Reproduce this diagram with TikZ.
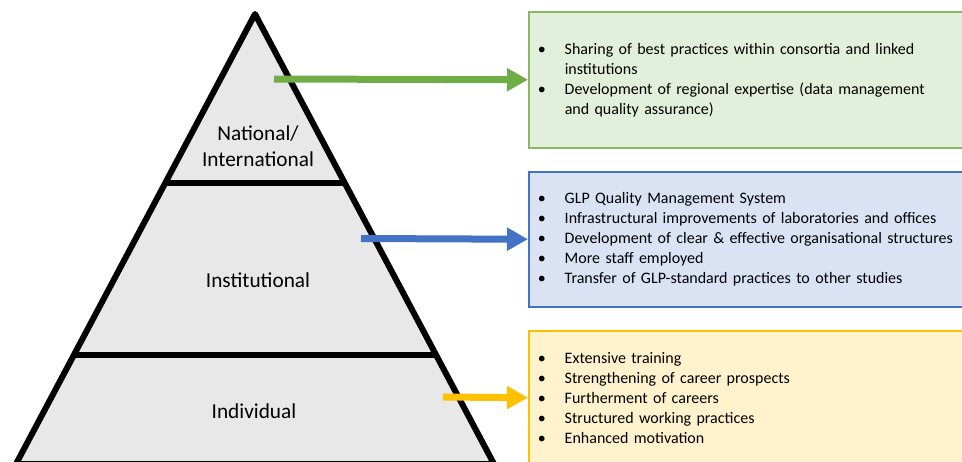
\documentclass[tikz,border=0pt]{standalone}
\usepackage{fontspec}
\setmainfont{Carlito}
\usetikzlibrary{arrows.meta,positioning}

\definecolor{natgreen}{HTML}{70AD47}
\definecolor{natfill}{HTML}{E2EFDA}
\definecolor{instblue}{HTML}{4472C4}
\definecolor{instfill}{HTML}{DAE3F3}
\definecolor{indyellow}{HTML}{FFC000}
\definecolor{indfill}{HTML}{FFF2CC}
\definecolor{pyrfill}{HTML}{E8E8E8}

\newcommand{\bpoint}[1]{\noindent\hangindent=36pt\hangafter=1\makebox[36pt][l]{\hspace{9pt}\textbullet}#1\par}

\begin{document}
\begin{tikzpicture}[x=1pt,y=-1pt,
    listbox/.style={anchor=north west, line width=1.5pt, inner sep=0pt,
      text width=440pt, align=left, font=\fontsize{16}{20}\selectfont},
    levelarrow/.style={line width=7pt, -{Triangle[width=22pt,length=21pt]}},
    levellabel/.style={align=center, font=\fontsize{21.3}{26}\selectfont}]
	\useasboundingbox (0,0) rectangle (962,461);
	%\draw[style=help lines,step=50] (0,0) grid (962,461);

	% pyramid
	\draw[fill=pyrfill, line width=6pt, line join=round] (255,14) -- (494,464) -- (16,464) -- cycle;
	\draw[line width=6pt] (164.7,183) -- (345.3,183);
	\draw[line width=6pt] (73.4,355) -- (436.6,355);
	\node[levellabel] (natlabel) at (258,146) {National/\\International};
	\node[levellabel] (instlabel) at (258,280) {Institutional};
	\node[levellabel] (indlabel) at (254,411) {Individual};

	% boxes
	\node[listbox, draw=natgreen!85, fill=natfill, minimum height=136pt] (natbox) at (528,11) {%
		\bpoint{Sharing of best practices within consortia and linked\newline institutions}
		\bpoint{Development of regional expertise (data management\newline and quality assurance)}
		\vspace*{7pt}};
	\node[listbox, draw=instblue, fill=instfill, minimum height=135pt] (instbox) at (528,171) {%
		\bpoint{GLP Quality Management System}
		\bpoint{Infrastructural improvements of laboratories and offices}
		\bpoint{Development of clear \& effective organisational structures}
		\bpoint{More staff employed}
		\bpoint{Transfer of GLP-standard practices to other studies}
		\vspace*{8pt}};
	\node[listbox, draw=indyellow, fill=indfill, minimum height=134pt] (indbox) at (528,330) {%
		\bpoint{Extensive training}
		\bpoint{Strengthening of career prospects}
		\bpoint{Furtherment of careers}
		\bpoint{Structured working practices}
		\bpoint{Enhanced motivation}
		\vspace*{9pt}};

	% arrows
	\coordinate (natstart) at (274,79);
	\coordinate (inststart) at (361,238.5);
	\coordinate (indstart) at (443,397);
	\draw[levelarrow, natgreen] (natstart) -- (natbox.west);
	\draw[levelarrow, instblue] (inststart) -- (instbox.west);
	\draw[levelarrow, indyellow] (indstart) -- (indbox.west);
\end{tikzpicture}
\end{document}
